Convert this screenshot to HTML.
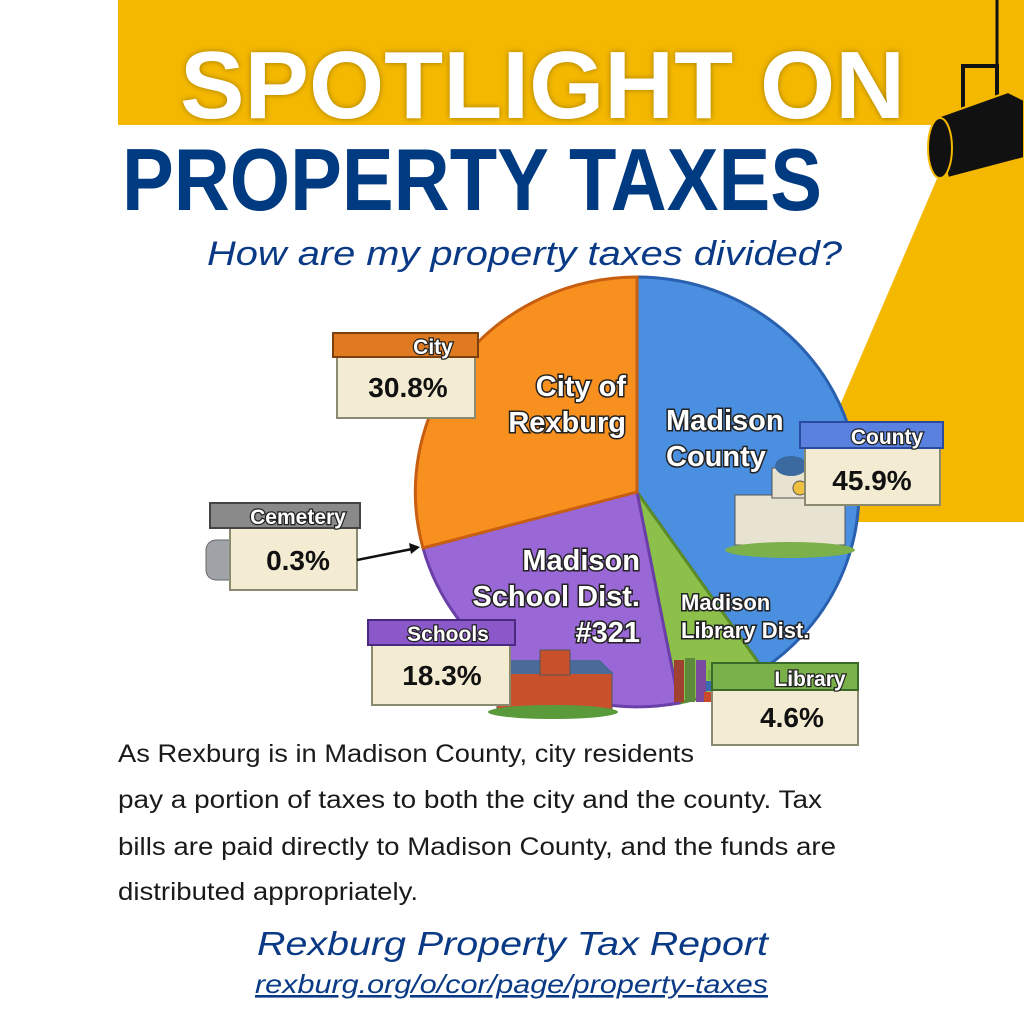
<!DOCTYPE html>
<html><head><meta charset="utf-8"><style>
html,body{margin:0;padding:0;background:#fff;}
svg{display:block;}
.lbl{font-family:"Liberation Sans",sans-serif;font-weight:bold;fill:#fff;stroke:#222;stroke-width:3;paint-order:stroke;}
.pct{font-family:"Liberation Sans",sans-serif;font-weight:bold;fill:#111;}
.hd{font-family:"Liberation Sans",sans-serif;font-weight:bold;fill:#fff;stroke:#222;stroke-width:2.5;paint-order:stroke;}
</style></head><body>
<svg width="1024" height="1024" viewBox="0 0 1024 1024" xmlns="http://www.w3.org/2000/svg">
<rect width="1024" height="1024" fill="#fff"/>
<rect x="118" y="0" width="906" height="125" fill="#f4b800"/>
<polygon points="945,160 1024,110 1024,522 790,522" fill="#f4b800"/>
<line x1="997" y1="0" x2="997" y2="68" stroke="#111" stroke-width="3"/>
<rect x="963" y="66" width="34" height="70" fill="none" stroke="#111" stroke-width="4"/>
<polygon points="935,118 1008,92 1024,100 1024,158 948,178" fill="#111" stroke="#f4b800" stroke-width="2"/>
<ellipse cx="940" cy="148" rx="12" ry="30" fill="#111" stroke="#f4b800" stroke-width="2"/>
<text x="180" y="118" font-family="Liberation Sans,sans-serif" font-weight="bold" font-size="96" fill="#fff" textLength="725" lengthAdjust="spacingAndGlyphs" style="text-shadow:0 0 6px #a07a00">SPOTLIGHT ON</text>
<text x="122" y="210" font-family="Liberation Sans,sans-serif" font-weight="bold" font-size="88" fill="#003a80" textLength="700" lengthAdjust="spacingAndGlyphs">PROPERTY TAXES</text>
<text x="207" y="265" font-family="Liberation Sans,sans-serif" font-style="italic" font-size="34" fill="#0a3a85" textLength="635" lengthAdjust="spacingAndGlyphs">How are my property taxes divided?</text>
<g stroke-width="3">
<path d="M637,492 L637,277 A222 215 0 0 1 763,669 Z" fill="#4a8fe0" stroke="#2a60b0"/>
<path d="M637,492 L763,669 A222 215 0 0 1 679,703 Z" fill="#8cc04a" stroke="#5a8a2a"/>
<path d="M637,492 L679,703 A222 215 0 0 1 423,548 Z" fill="#9a68d6" stroke="#6a3fa8"/>
<path d="M637,492 L423,548 A222 215 0 0 1 637,277 Z" fill="#f7901f" stroke="#c85e10"/>
</g>
<text class="lbl" font-size="29" x="626" y="396" text-anchor="end">City of</text>
<text class="lbl" font-size="29" x="626" y="432" text-anchor="end">Rexburg</text>
<text class="lbl" font-size="29" x="666" y="430">Madison</text>
<text class="lbl" font-size="29" x="666" y="466">County</text>
<text class="lbl" font-size="29" x="640" y="570" text-anchor="end">Madison</text>
<text class="lbl" font-size="29" x="640" y="606" text-anchor="end">School Dist.</text>
<text class="lbl" font-size="29" x="640" y="642" text-anchor="end">#321</text>
<text class="lbl" font-size="22" x="681" y="610">Madison</text>
<text class="lbl" font-size="22" x="681" y="638">Library Dist.</text>
<g>
<rect x="735" y="495" width="110" height="50" fill="#e8e2d0" stroke="#555"/>
<rect x="772" y="468" width="38" height="30" fill="#e8e2d0" stroke="#555"/>
<ellipse cx="791" cy="466" rx="16" ry="10" fill="#3a6aa0"/>
<circle cx="800" cy="488" r="7" fill="#f0c040" stroke="#555"/>
<ellipse cx="790" cy="550" rx="65" ry="8" fill="#7cb04a"/>
<rect x="497" y="672" width="115" height="38" fill="#c8502a" stroke="#555"/>
<polygon points="494,674 614,674 600,660 508,660" fill="#4a6a9a"/>
<rect x="540" y="650" width="30" height="25" fill="#c8502a" stroke="#555"/>
<ellipse cx="553" cy="712" rx="65" ry="7" fill="#5a9a3a"/>
<rect x="674" y="660" width="10" height="42" fill="#a04030"/>
<rect x="685" y="658" width="10" height="44" fill="#5a8a3a"/>
<rect x="696" y="660" width="10" height="42" fill="#7a4aa0"/>
<rect x="708" y="670" width="45" height="10" fill="#7ab04a"/>
<rect x="706" y="681" width="48" height="10" fill="#3a6ab0"/>
<rect x="704" y="692" width="50" height="10" fill="#c84a2a"/>
<rect x="206" y="540" width="36" height="40" rx="10" fill="#a0a4a8" stroke="#666"/>
</g>
<g>
<rect x="337" y="355" width="138" height="63" fill="#f3ecd2" stroke="#8a8a70" stroke-width="2"/>
<rect x="333" y="333" width="145" height="24" fill="#e07a20" stroke="#7a4010" stroke-width="2"/>
<text class="hd" font-size="21" x="433" y="354" text-anchor="middle">City</text>
<text class="pct" font-size="28" x="408" y="397" text-anchor="middle">30.8%</text>
<rect x="230" y="528" width="127" height="62" fill="#f3ecd2" stroke="#8a8a70" stroke-width="2"/>
<rect x="210" y="503" width="150" height="25" fill="#8a8a8a" stroke="#444" stroke-width="2"/>
<text class="hd" font-size="21" x="298" y="524" text-anchor="middle">Cemetery</text>
<text class="pct" font-size="28" x="298" y="570" text-anchor="middle">0.3%</text>
<line x1="357" y1="560" x2="412" y2="549" stroke="#111" stroke-width="2.5"/>
<polygon points="420,547 409,543 411,554" fill="#111"/>
<rect x="372" y="645" width="138" height="60" fill="#f3ecd2" stroke="#8a8a70" stroke-width="2"/>
<rect x="368" y="620" width="147" height="25" fill="#8a58c8" stroke="#4a2a80" stroke-width="2"/>
<text class="hd" font-size="21" x="448" y="641" text-anchor="middle">Schools</text>
<text class="pct" font-size="28" x="442" y="685" text-anchor="middle">18.3%</text>
<rect x="805" y="446" width="135" height="59" fill="#f3ecd2" stroke="#8a8a70" stroke-width="2"/>
<rect x="800" y="422" width="143" height="26" fill="#5a80e0" stroke="#2a4aa0" stroke-width="2"/>
<text class="hd" font-size="21" x="887" y="444" text-anchor="middle">County</text>
<text class="pct" font-size="28" x="872" y="490" text-anchor="middle">45.9%</text>
<rect x="712" y="688" width="146" height="57" fill="#f3ecd2" stroke="#8a8a70" stroke-width="2"/>
<rect x="712" y="663" width="146" height="27" fill="#7ab04a" stroke="#3a6a2a" stroke-width="2"/>
<text class="hd" font-size="21" x="810" y="686" text-anchor="middle">Library</text>
<text class="pct" font-size="28" x="792" y="727" text-anchor="middle">4.6%</text>
</g>
<g font-family="Liberation Sans,sans-serif" font-size="25" fill="#1a1a1a">
<text x="118" y="762" textLength="576" lengthAdjust="spacingAndGlyphs">As Rexburg is in Madison County, city residents</text>
<text x="118" y="808" textLength="704" lengthAdjust="spacingAndGlyphs">pay a portion of taxes to both the city and the county. Tax</text>
<text x="118" y="855" textLength="718" lengthAdjust="spacingAndGlyphs">bills are paid directly to Madison County, and the funds are</text>
<text x="118" y="900" textLength="300" lengthAdjust="spacingAndGlyphs">distributed appropriately.</text>
</g>
<text x="257" y="955" font-family="Liberation Sans,sans-serif" font-style="italic" font-size="33" fill="#0a3a85" textLength="511" lengthAdjust="spacingAndGlyphs">Rexburg Property Tax Report</text>
<text x="255" y="993" font-family="Liberation Sans,sans-serif" font-style="italic" font-size="26" fill="#0a3a85" text-decoration="underline" textLength="513" lengthAdjust="spacingAndGlyphs">rexburg.org/o/cor/page/property-taxes</text>
</svg>
</body></html>
